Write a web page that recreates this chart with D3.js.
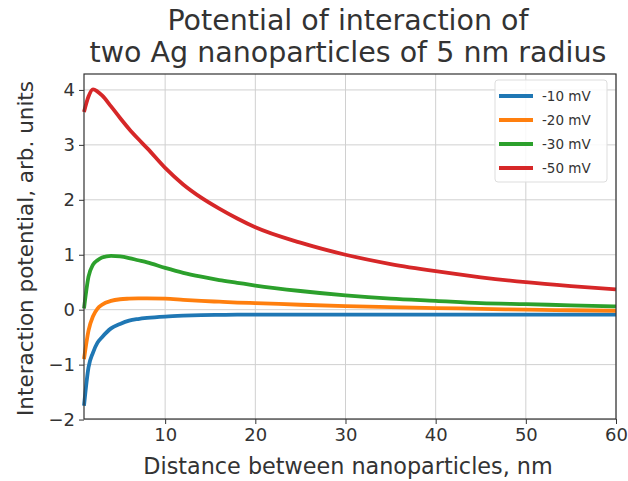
<!DOCTYPE html>
<html>
<head>
<meta charset="utf-8">
<script src="https://cdn.jsdelivr.net/npm/d3@7"></script>
<style>
  html, body { margin: 0; padding: 0; background: #fff; }
  svg { display: block; font-family: "DejaVu Sans", sans-serif; }
</style>
</head>
<body>
<svg id="chart" width="628" height="481"></svg>
<script>
// Distance between nanoparticles, nm
const distance = [1, 1.5, 2, 2.5, 3, 4, 5, 6, 7, 8, 10, 12, 14, 16, 18, 20, 25, 30, 35, 40, 45, 50, 55, 60];

// Interaction potential (arb. units) for each surface potential
const pot10 = [-1.75, -1.05, -0.78, -0.6, -0.5, -0.34, -0.26, -0.2, -0.17, -0.15, -0.125, -0.11, -0.1, -0.095, -0.09, -0.09, -0.09, -0.09, -0.09, -0.09, -0.09, -0.09, -0.09, -0.09];
const pot20 = [-0.9, -0.38, -0.12, 0.02, 0.09, 0.16, 0.19, 0.2, 0.205, 0.205, 0.2, 0.18, 0.16, 0.145, 0.13, 0.12, 0.09, 0.065, 0.045, 0.03, 0.015, 0.0, -0.01, -0.02];
const pot30 = [0.02, 0.6, 0.82, 0.9, 0.95, 0.98, 0.97, 0.94, 0.9, 0.86, 0.76, 0.67, 0.6, 0.54, 0.49, 0.44, 0.34, 0.26, 0.2, 0.16, 0.12, 0.1, 0.08, 0.06];
const pot50 = [3.6, 3.88, 4.01, 3.97, 3.9, 3.7, 3.49, 3.29, 3.11, 2.94, 2.58, 2.28, 2.04, 1.84, 1.66, 1.5, 1.22, 1.0, 0.83, 0.7, 0.59, 0.5, 0.43, 0.37];

const seriesLabels = ["-10 mV", "-20 mV", "-30 mV", "-50 mV"];
const seriesColors = ["#1f77b4", "#ff7f0e", "#2ca02c", "#d62728"];
const seriesValues = [pot10, pot20, pot30, pot50];

const xTicks = [10, 20, 30, 40, 50, 60];
const yTicks = [-2, -1, 0, 1, 2, 3, 4];

const titleLines = ["Potential of interaction of", "two Ag nanoparticles of 5 nm radius"];
const xLabel = "Distance between nanoparticles, nm";
const yLabel = "Interaction potential, arb. units";

const margin = { left: 84, right: 12, top: 74, bottom: 62 };
const W = 628, H = 481;
const iw = W - margin.left - margin.right;
const ih = H - margin.top - margin.bottom;

const svg = d3.select("#chart");
const g = svg.append("g").attr("transform", `translate(${margin.left},${margin.top})`);

const x = d3.scaleLinear().domain([1, 60]).range([0, iw]);
const y = d3.scaleLinear().domain([-1.99, 4.29]).range([ih, 0]);

// grid
g.append("g").selectAll("line").data(xTicks).join("line")
  .attr("x1", d => x(d)).attr("x2", d => x(d)).attr("y1", 0).attr("y2", ih)
  .attr("stroke", "#d0d0d0").attr("stroke-width", 1);
g.append("g").selectAll("line").data(yTicks).join("line")
  .attr("x1", 0).attr("x2", iw).attr("y1", d => y(d)).attr("y2", d => y(d))
  .attr("stroke", "#d0d0d0").attr("stroke-width", 1);

// axes
const fmt = d => d < 0 ? "\u2212" + Math.abs(d) : String(d);
const xAxis = g.append("g").attr("transform", `translate(0,${ih})`)
  .call(d3.axisBottom(x).tickValues(xTicks).tickSize(5).tickPadding(4).tickFormat(fmt));
const yAxis = g.append("g")
  .call(d3.axisLeft(y).tickValues(yTicks).tickSize(5).tickPadding(4).tickFormat(fmt));
[xAxis, yAxis].forEach(a => {
  a.select(".domain").remove();
  a.selectAll("line").attr("stroke", "#333").attr("stroke-width", 1);
  a.selectAll("text").attr("fill", "#333").style("font-size", "18px").style("font-family", "DejaVu Sans, sans-serif");
});

// lines
const line = d3.line().x((d, i) => x(distance[i])).y(d => y(d)).curve(d3.curveMonotoneX);
g.append("g").selectAll("path").data(seriesValues).join("path")
  .attr("d", d => line(d))
  .attr("fill", "none")
  .attr("stroke", (d, i) => seriesColors[i])
  .attr("stroke-width", 3.8)
  .attr("stroke-linejoin", "round")
  .attr("stroke-linecap", "butt");

// frame
g.append("rect").attr("x", 0).attr("y", 0).attr("width", iw).attr("height", ih)
  .attr("fill", "none").attr("stroke", "#333").attr("stroke-width", 1.2);

// legend
const lg = g.append("g").attr("transform", `translate(${iw - 121},6)`);
lg.append("rect").attr("x", 0).attr("y", 0).attr("width", 112).attr("height", 102)
  .attr("rx", 3).attr("fill", "#fff").attr("fill-opacity", 0.85)
  .attr("stroke", "#ddd").attr("stroke-width", 1);
const items = lg.selectAll("g.item").data(seriesLabels).join("g")
  .attr("class", "item")
  .attr("transform", (d, i) => `translate(0,${16 + i * 24})`);
items.append("line").attr("x1", 4).attr("x2", 38).attr("y1", 0).attr("y2", 0)
  .attr("stroke", (d, i) => seriesColors[i]).attr("stroke-width", 3.8);
items.append("text").attr("x", 47).attr("y", 0).attr("dy", "0.35em")
  .attr("fill", "#333").style("font-size", "13.5px").text(d => d);

// title
svg.append("g").selectAll("text").data(titleLines).join("text")
  .attr("x", margin.left + iw / 2 - 2).attr("y", (d, i) => 30 + i * 32)
  .attr("text-anchor", "middle").attr("fill", "#333")
  .style("font-size", "28.5px").text(d => d);

// axis labels
svg.append("text").attr("x", margin.left + iw / 2 - 2).attr("y", 474)
  .attr("text-anchor", "middle").attr("fill", "#333").style("font-size", "22.3px")
  .text(xLabel);
svg.append("text").attr("transform", `translate(33,${margin.top + ih / 2 + 2}) rotate(-90)`)
  .attr("text-anchor", "middle").attr("fill", "#333").style("font-size", "21.5px")
  .text(yLabel);
</script>
</body>
</html>
